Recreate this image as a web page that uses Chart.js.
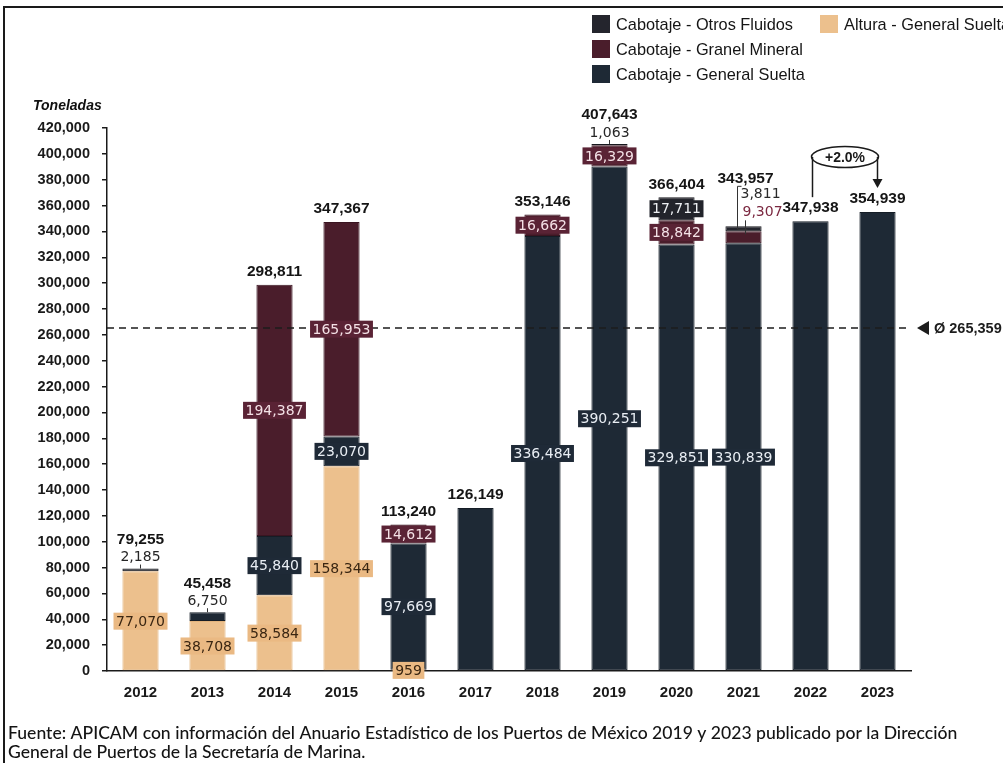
<!DOCTYPE html>
<html>
<head>
<meta charset="utf-8">
<script src="https://cdn.jsdelivr.net/npm/chart.js@4.4.1/dist/chart.umd.min.js"></script>
<style>
html,body{margin:0;padding:0;background:#fff;}
#wrap{width:1003px;height:763px;position:relative;}
</style>
</head>
<body>
<div id="wrap"><canvas id="c" width="1003" height="763"></canvas></div>
<script>
// ---- DATA ----
const categories = ['2012','2013','2014','2015','2016','2017','2018','2019','2020','2021','2022','2023'];
const alturaGeneralSuelta    = [77070, 38708, 58584, 158344, 959, null, null, null, null, null, null, null];
const cabotajeGeneralSuelta  = [null, 6750, 45840, 23070, 97669, 126149, 336484, 390251, 329851, 330839, 347938, 354939];
const cabotajeGranelMineral  = [null, null, 194387, 165953, 14612, null, 16662, 16329, 18842, 9307, null, null];
const cabotajeOtrosFluidos   = [2185, null, null, null, null, null, null, 1063, 17711, 3811, null, null];
const seriesNames = ['Altura - General Suelta','Cabotaje - General Suelta','Cabotaje - Granel Mineral','Cabotaje - Otros Fluidos'];
const yMin = 0, yMax = 420000, yStep = 20000;
const changeLabel = '+2.0%';
const axisTitle = 'Toneladas';
const sourceLines = [
  'Fuente: APICAM con información del Anuario Estadístico de los Puertos de México 2019 y 2023 publicado por la Dirección',
  'General de Puertos de la Secretaría de Marina.'
];

// ---- STYLE ----
const colors = ['#ecc08d', '#1e2935', '#4a1d2b', '#24252d'];
const borderColors = ['#e3b47d', '#151d26', '#3a1521', '#17181e'];
const boxColors = ['#eab983', '#1f2a37', '#5a2335', '#22242b'];
const boxText = ['#3a2612', '#e9eef4', '#f4e1e6', '#eceff2'];
const aboveLabels = {0:[3], 1:[1], 7:[3]};   // small segments labelled above the bar
const calloutLabels = {9:[3,2]};             // labelled beside the bar
const fmt = v => Math.round(v).toLocaleString('en-US');

const allSeries = [alturaGeneralSuelta, cabotajeGeneralSuelta, cabotajeGranelMineral, cabotajeOtrosFluidos];
const totals = categories.map((_, i) => allSeries.reduce((s, a) => s + (a[i] || 0), 0));
const average = totals.reduce((a, b) => a + b, 0) / totals.length;

const datasets = allSeries.map((d, k) => ({
  label: seriesNames[k], data: d, backgroundColor: colors[k],
  borderColor: borderColors[k], borderWidth: 1, borderSkipped: false,
  barPercentage: 0.54, categoryPercentage: 1.0
}));

const MONO = '14px "DejaVu Sans", sans-serif';
const BOLD = 'bold 15.5px "Liberation Sans", Arial, sans-serif';

const decor = {
  id: 'decor',
  afterDatasetsDraw(chart) {
    const ctx = chart.ctx, y = chart.scales.y, x = chart.scales.x, ca = chart.chartArea;
    // average line
    const ay = y.getPixelForValue(average);
    ctx.save();
    ctx.strokeStyle = '#1d1d1d'; ctx.lineWidth = 1.6; ctx.setLineDash([7,5]);
    ctx.beginPath(); ctx.moveTo(ca.left, ay); ctx.lineTo(ca.right, ay); ctx.stroke();
    ctx.setLineDash([]);
    ctx.fillStyle = '#1d1d1d';
    ctx.beginPath(); ctx.moveTo(917, ay); ctx.lineTo(929, ay-7); ctx.lineTo(929, ay+7); ctx.closePath(); ctx.fill();
    ctx.font = 'bold 14.5px "Liberation Sans", Arial, sans-serif';
    ctx.textBaseline = 'middle'; ctx.textAlign = 'left';
    ctx.fillText('Ø ' + fmt(average), 934, ay+1);

    // segment labels
    categories.forEach((c, i) => {
      const nonZero = allSeries.filter(a => a[i]).length;
      const above = aboveLabels[i] || [];
      const call = calloutLabels[i] || [];
      let cum = 0;
      allSeries.forEach((a, k) => {
        const v = a[i];
        if (!v) return;
        const mid = cum + v/2; cum += v;
        if (nonZero < 2 || above.includes(k) || call.includes(k)) return;
        const meta = chart.getDatasetMeta(k).data[i];
        const cx = meta.x, cy = y.getPixelForValue(mid);
        ctx.font = MONO;
        const w = ctx.measureText(fmt(v)).width + 5;
        ctx.fillStyle = boxColors[k];
        ctx.fillRect(cx - w/2, cy - 8.5, w, 17);
        ctx.fillStyle = boxText[k];
        ctx.textAlign = 'center'; ctx.textBaseline = 'middle';
        ctx.fillText(fmt(v), cx, cy + 1);
      });
      const xc = x.getPixelForValue(i);
      const top = y.getPixelForValue(totals[i]);
      let off = 13;
      ctx.textAlign = 'center'; ctx.textBaseline = 'middle';
      if (above.length) {
        above.forEach(k => {
          ctx.strokeStyle = '#333'; ctx.lineWidth = 1;
          ctx.beginPath(); ctx.moveTo(xc, top); ctx.lineTo(xc, top - 4); ctx.stroke();
          ctx.font = MONO; ctx.fillStyle = '#262626';
          ctx.fillText(fmt(allSeries[k][i]), xc, top - 11);
        });
        off = 29;
      }
      if (call.length) {
        ctx.strokeStyle = '#333'; ctx.lineWidth = 1;
        ctx.beginPath(); ctx.moveTo(xc + 4, top + 3); ctx.lineTo(xc - 6, top + 3); ctx.lineTo(xc - 6, top - 40); ctx.lineTo(xc - 2, top - 40); ctx.stroke();
        ctx.beginPath(); ctx.moveTo(xc + 2, top - 6); ctx.lineTo(xc + 2, top + 8); ctx.stroke();
        ctx.font = MONO; ctx.textAlign = 'left';
        ctx.fillStyle = '#2a2a2a';
        ctx.fillText(fmt(allSeries[call[0]][i]), xc - 3, top - 32);
        ctx.fillStyle = '#7b2840';
        ctx.fillText(fmt(allSeries[call[1]][i]), xc - 1, top - 14);
        ctx.textAlign = 'center';
        off = 48;
      }
      ctx.font = BOLD; ctx.fillStyle = '#151515';
      ctx.fillText(fmt(totals[i]), xc + (call.length ? 2 : 0), top - off);
    });

    // +2.0% annotation between last two bars
    const n = categories.length;
    const x1 = x.getPixelForValue(n-2) + 2, x2 = x.getPixelForValue(n-1);
    const t1 = y.getPixelForValue(totals[n-2]), t2 = y.getPixelForValue(totals[n-1]);
    const ex = (x1 + x2) / 2, ey = 157;
    ctx.strokeStyle = '#1a1a1a'; ctx.lineWidth = 1.5;
    ctx.beginPath(); ctx.ellipse(ex, ey, (x2 - x1)/2 + 1, 10.5, 0, 0, Math.PI*2); ctx.stroke();
    ctx.beginPath(); ctx.moveTo(x1, t1 - 24); ctx.lineTo(x1, ey); ctx.stroke();
    ctx.beginPath(); ctx.moveTo(x2, ey); ctx.lineTo(x2, t2 - 30); ctx.stroke();
    ctx.fillStyle = '#1a1a1a';
    ctx.beginPath(); ctx.moveTo(x2 - 5, t2 - 33); ctx.lineTo(x2 + 5, t2 - 33); ctx.lineTo(x2, t2 - 24); ctx.closePath(); ctx.fill();
    ctx.font = 'bold 14px "Liberation Sans", Arial, sans-serif';
    ctx.textAlign = 'center'; ctx.fillText(changeLabel, ex, ey + 1);
    ctx.restore();
  },
  afterDraw(chart) {
    const ctx = chart.ctx;
    ctx.save();
    // frame
    ctx.strokeStyle = '#1a1a1a'; ctx.lineWidth = 2;
    ctx.beginPath(); ctx.moveTo(1003, 7); ctx.lineTo(4, 7); ctx.lineTo(4, 763); ctx.stroke();
    // axis title
    ctx.font = 'italic bold 14px "Liberation Sans", Arial, sans-serif';
    ctx.fillStyle = '#111'; ctx.textAlign = 'left'; ctx.textBaseline = 'middle';
    ctx.fillText(axisTitle, 33, 106);
    // legend (condensed text)
    const items = [[3, 592, 24], [0, 820, 24], [2, 592, 49], [1, 592, 74]];
    ctx.font = '17px "Liberation Sans", sans-serif';
    const sx = 177 / ctx.measureText(seriesNames[3]).width;
    items.forEach(([k, lx, ly]) => {
      ctx.fillStyle = colors[k]; ctx.fillRect(lx, ly - 9, 18, 18);
      ctx.save();
      ctx.translate(lx + 24, ly + 1); ctx.scale(sx, 1);
      ctx.fillStyle = '#151515'; ctx.fillText(seriesNames[k], 0, 0);
      ctx.restore();
    });
    // source
    ctx.font = '15px Lato, sans-serif';
    const w0 = ctx.measureText(sourceLines[0]).width;
    const fs = 15 * 947 / w0;
    ctx.font = '500 ' + fs.toFixed(2) + 'px Lato, sans-serif';
    ctx.fillStyle = '#141414';
    ctx.fillText(sourceLines[0], 8, 733);
    ctx.fillText(sourceLines[1], 8, 752);
    ctx.restore();
  }
};

new Chart(document.getElementById('c'), {
  type: 'bar',
  data: { labels: categories, datasets },
  options: {
    responsive: false, animation: false,
    layout: { padding: { left: 0, right: 92, top: 128, bottom: 62 } },
    plugins: { legend: { display: false }, tooltip: { enabled: false } },
    scales: {
      x: {
        stacked: true,
        grid: { display: true, drawOnChartArea: false, drawTicks: false },
        border: { display: true, color: '#1a1a1a', width: 1.5 },
        ticks: { color: '#1a1a1a', font: { family: '"Liberation Sans", Arial, sans-serif', size: 15, weight: 'bold' }, padding: 13 },
        afterFit: s => { s.height = 30; }
      },
      y: {
        stacked: true, min: yMin, max: yMax,
        grid: { display: true, drawOnChartArea: false, drawTicks: true, tickLength: 5, color: '#1a1a1a', lineWidth: 1.5 },
        border: { display: true, color: '#1a1a1a', width: 1.5 },
        ticks: { stepSize: yStep, color: '#1a1a1a', padding: 12,
          font: { family: '"Liberation Sans", Arial, sans-serif', size: 14.5, weight: 'bold' },
          callback: v => fmt(v) },
        afterFit: s => { s.width = 107; }
      }
    }
  },
  plugins: [decor]
});
</script>
</body>
</html>
